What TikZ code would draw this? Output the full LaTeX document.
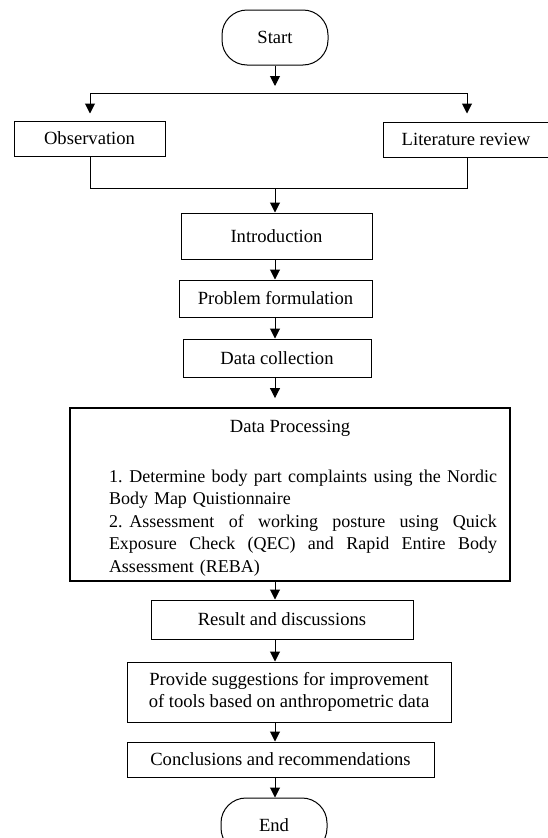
\documentclass[tikz,border=0pt]{standalone}
\usepackage{fontspec}
\setmainfont{Liberation Serif}
\usetikzlibrary{arrows.meta}
\newcommand\fullline[1]{{\spaceskip=0pt\xspaceskip=0pt\makebox[388pt][s]{#1}}}

\begin{document}
\begin{tikzpicture}[x=1pt,y=-1pt,
    font=\fontsize{18.6}{22.6}\selectfont,
    every node/.style={inner sep=0pt},
    stepbox/.style={draw, line width=1pt, align=center},
    termbox/.style={draw, line width=1pt, rounded corners=25pt, minimum width=106pt, minimum height=55pt},
    arr/.style={-{Triangle[length=10pt,width=10pt]}, line width=1pt},
    link/.style={line width=1pt}]
	\useasboundingbox (0,0) rectangle (548,838);
	\coordinate (axis) at (275,0);

	% start and the two branches
	\node[termbox] (start) at (275,37.5) {Start};
	\coordinate (forkC) at (275,86);
	\coordinate (forkL) at (90,93);
	\coordinate (forkR) at (467,93);
	\coordinate (join) at (275,188);
	\node[stepbox, minimum width=151pt, minimum height=35pt] (obs) at (89.5,138.5) {Observation};
	\node[stepbox, minimum width=166pt, minimum height=35pt] (lit) at (466,139.5) {Literature review};

	% main column
	\node[stepbox, minimum width=191pt, minimum height=46pt] (intro) at (276.5,236) {Introduction};
	\node[stepbox, minimum width=193pt, minimum height=37pt] (prob) at (275.5,298.5) {Problem formulation};
	\node[stepbox, minimum width=188pt, minimum height=38pt] (coll) at (277,358) {Data collection};

	\node[stepbox, line width=1.9pt, minimum width=440pt, minimum height=173pt] (proc) at (290,494.5) {};
	\node (proctitle) at (290,428) {Data Processing};
	\node[text width=388pt, align=left, font=\fontsize{18}{22.4}\selectfont] (proclist) at (303,523) {%
		\fullline{1.\hspace{7pt}Determine body part complaints using the Nordic}\\
		Body Map Quistionnaire\\
		\fullline{2.\hspace{7pt}Assessment of working posture using Quick}\\
		\fullline{Exposure Check (QEC) and Rapid Entire Body}\\
		Assessment (REBA)};

	\node[stepbox, minimum width=262pt, minimum height=39pt] (result) at (282,619.5) {Result and discussions};
	\node[stepbox, minimum width=324pt, minimum height=60pt] (suggest) at (289,692) {Provide suggestions for improvement\\of tools based on anthropometric data};
	\node[stepbox, minimum width=307pt, minimum height=35pt] (concl) at (280.5,759.5) {Conclusions and recommendations};
	\node[termbox] (end) at (274,825.5) {End};

	% connectors
	\draw[arr] (start.south -| axis) -- (forkC);
	\draw[link] (forkL) -- (forkR);
	\draw[arr, shorten >=7pt] (forkL) -- (forkL |- obs.north);
	\draw[arr, shorten >=8pt] (forkR) -- (forkR |- lit.north);
	\draw[link] (forkL |- obs.south) -- (forkL |- join) -- (forkR |- join) -- (forkR |- lit.south);
	\draw[arr] (join) -- (join |- intro.north);
	\draw[arr] (intro.south -| axis) -- (prob.north -| axis);
	\draw[arr] (prob.south -| axis) -- (coll.north -| axis);
	\draw[arr, shorten >=9pt] (coll.south -| axis) -- (proc.north -| axis);
	\draw[arr] (proc.south -| axis) -- (result.north -| axis);
	\draw[arr] (result.south -| axis) -- (suggest.north -| axis);
	\draw[arr] (suggest.south -| axis) -- (concl.north -| axis);
	\draw[arr] (concl.south -| axis) -- (end.north -| axis);
\end{tikzpicture}
\end{document}
